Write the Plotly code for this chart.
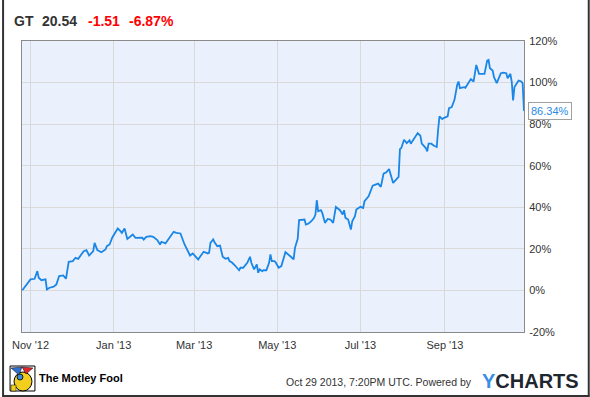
import plotly.graph_objects as go

# ---------------- data ----------------
dates = [
    "2012-10-26", "2012-11-01", "2012-11-04", "2012-11-06", "2012-11-07", "2012-11-09",
    "2012-11-12", "2012-11-13", "2012-11-15", "2012-11-18", "2012-11-20", "2012-11-22",
    "2012-11-25", "2012-11-27", "2012-11-29", "2012-12-02", "2012-12-04", "2012-12-06",
    "2012-12-10", "2012-12-12", "2012-12-14", "2012-12-16", "2012-12-17", "2012-12-18",
    "2012-12-20", "2012-12-23", "2012-12-26", "2012-12-27", "2012-12-29", "2012-12-31",
    "2013-01-02", "2013-01-04", "2013-01-06", "2013-01-07", "2013-01-09", "2013-01-11",
    "2013-01-13", "2013-01-15", "2013-01-17", "2013-01-19", "2013-01-22", "2013-01-23",
    "2013-01-25", "2013-01-28", "2013-01-30", "2013-02-02", "2013-02-04", "2013-02-05",
    "2013-02-08", "2013-02-10", "2013-02-13", "2013-02-14", "2013-02-16", "2013-02-19",
    "2013-02-22", "2013-02-24", "2013-02-26", "2013-02-28", "2013-03-02", "2013-03-04",
    "2013-03-06", "2013-03-08", "2013-03-11", "2013-03-12", "2013-03-13", "2013-03-15",
    "2013-03-16", "2013-03-18", "2013-03-20", "2013-03-21", "2013-03-22", "2013-03-24",
    "2013-03-26", "2013-03-27", "2013-03-29", "2013-03-31", "2013-04-03", "2013-04-04",
    "2013-04-06", "2013-04-09", "2013-04-11", "2013-04-12", "2013-04-14", "2013-04-16",
    "2013-04-17", "2013-04-18", "2013-04-20", "2013-04-21", "2013-04-23", "2013-04-25",
    "2013-04-26", "2013-04-27", "2013-04-29", "2013-04-30", "2013-05-02", "2013-05-04",
    "2013-05-06", "2013-05-07", "2013-05-11", "2013-05-13", "2013-05-14", "2013-05-16",
    "2013-05-17", "2013-05-19", "2013-05-21", "2013-05-22", "2013-05-24", "2013-05-26",
    "2013-05-28", "2013-05-29", "2013-05-30", "2013-05-31", "2013-06-02", "2013-06-03",
    "2013-06-05", "2013-06-07", "2013-06-09", "2013-06-11", "2013-06-13", "2013-06-16",
    "2013-06-17", "2013-06-18", "2013-06-19", "2013-06-20", "2013-06-22", "2013-06-23",
    "2013-06-24", "2013-06-25", "2013-06-27", "2013-06-28", "2013-07-01", "2013-07-03",
    "2013-07-04", "2013-07-07", "2013-07-08", "2013-07-10", "2013-07-12", "2013-07-14",
    "2013-07-16", "2013-07-18", "2013-07-20", "2013-07-22", "2013-07-25", "2013-07-27",
    "2013-07-29", "2013-07-30", "2013-07-31", "2013-08-02", "2013-08-04", "2013-08-06",
    "2013-08-07", "2013-08-08", "2013-08-10", "2013-08-12", "2013-08-14", "2013-08-15",
    "2013-08-18", "2013-08-19", "2013-08-20", "2013-08-22", "2013-08-24", "2013-08-26",
    "2013-08-27", "2013-08-28", "2013-08-30", "2013-08-31", "2013-09-03", "2013-09-04",
    "2013-09-06", "2013-09-08", "2013-09-10", "2013-09-11", "2013-09-12", "2013-09-15",
    "2013-09-16", "2013-09-19", "2013-09-20", "2013-09-22", "2013-09-23", "2013-09-24",
    "2013-09-26", "2013-09-28", "2013-09-30", "2013-10-02", "2013-10-03", "2013-10-04",
    "2013-10-06", "2013-10-07", "2013-10-09", "2013-10-10", "2013-10-12", "2013-10-14",
    "2013-10-16", "2013-10-17", "2013-10-18", "2013-10-19", "2013-10-20", "2013-10-21",
    "2013-10-22", "2013-10-23", "2013-10-25", "2013-10-27", "2013-10-28", "2013-10-29",
]
pct_change = [
    0.1, 5.3, 5.6, 9.3, 6.1, 4.9,
    5.3, 0.5, 1.3, 1.8, 2.9, 6.9,
    7.2, 5.6, 13.8, 14.1, 15.7, 15.2,
    18.9, 19.4, 16.8, 18.1, 18.9, 22.9,
    19.4, 18.4, 19.7, 21.3, 22.1, 25.5,
    27.7, 29.8, 28.5, 27.7, 29.8, 24.8,
    25.8, 26.9, 25.3, 25.3, 25.4, 24.5,
    25.8, 26.1, 25.8, 24.2, 22.1, 23.4,
    22.6, 24.5, 26.9, 28.2, 27.7, 27.4,
    22.1, 19.4, 16.8, 17.8, 16.5, 14.9,
    16.8, 18.6, 17.8, 18.1, 22.9, 24.5,
    23.2, 21.3, 21.6, 18.9, 16.2, 15.2,
    15.7, 14.1, 13.3, 12.0, 9.7, 10.9,
    10.9, 13.3, 16.2, 13.3, 10.1, 12.5,
    8.5, 10.1, 9.3, 9.7, 9.7, 13.3,
    17.3, 14.1, 14.1, 13.3, 10.9, 11.7,
    15.7, 18.4, 16.2, 14.9, 20.5, 24.8,
    33.8, 33.8, 34.1, 31.7, 32.2, 33.3,
    34.9, 36.5, 43.4, 38.1, 38.6, 37.3,
    32.5, 34.4, 34.1, 32.5, 40.2, 38.6,
    37.6, 36.5, 38.6, 34.9, 34.1, 31.2,
    29.3, 33.3, 35.7, 38.9, 40.2, 39.7,
    42.9, 45.3, 46.9, 50.4, 50.9, 51.4,
    49.8, 56.2, 56.8, 58.4, 51.7, 53.0,
    54.6, 68.0, 68.5, 72.5, 70.9, 72.2,
    70.6, 71.7, 73.8, 75.7, 74.4, 70.6,
    68.5, 66.9, 70.6, 70.6, 69.6, 69.0,
    77.3, 83.7, 82.4, 82.9, 83.7, 87.7,
    88.2, 91.7, 98.9, 100.5, 97.3, 97.8,
    97.5, 101.0, 101.7, 100.5, 104.8, 108.5,
    104.2, 104.2, 104.2, 110.6, 110.9, 106.9,
    105.8, 102.6, 99.7, 101.3, 104.5, 104.8,
    104.5, 102.1, 102.9, 104.2, 100.5, 91.4,
    97.8, 98.9, 101.0, 100.5, 99.7, 86.34,
]

x_tick_vals = ["2012-11-01", "2013-01-01", "2013-03-01", "2013-05-01", "2013-07-01", "2013-09-01"]
x_tick_text = ["Nov '12", "Jan '13", "Mar '13", "May '13", "Jul '13", "Sep '13"]
y_tick_vals = [-20, 0, 20, 40, 60, 80, 100, 120]
y_tick_text = ["-20%", "0%", "20%", "40%", "60%", "80%", "100%", "120%"]

ticker = "GT"
price = "20.54"
change = "-1.51"
change_pct = "-6.87%"
last_label = "86.34%"
timestamp = "Oct 29 2013, 7:20PM UTC. Powered by"

# ---------------- layout geometry ----------------
W_PX, H_PX = 590, 397
M_L, M_R, M_T, M_B = 20, 66, 41, 65
PW = W_PX - M_L - M_R
PH = H_PX - M_T - M_B


def px(xp):
    return (xp - M_L) / PW


def py(yp):
    return (M_T + PH - yp) / PH


LINE_BLUE = "#1a86e6"
GRID = "#d9d9d9"
TXT = "#333333"

fig = go.Figure()
fig.add_trace(go.Scatter(
    x=dates, y=pct_change, mode="lines",
    line=dict(color=LINE_BLUE, width=1.8),
    hoverinfo="skip", showlegend=False,
))

annotations = []


def txt(xp, yp, text, size, color, bold=False, anchor="left", family="Liberation Sans, Arial, sans-serif"):
    t = f"<b>{text}</b>" if bold else text
    annotations.append(dict(
        x=px(xp), y=py(yp), xref="paper", yref="paper", text=t, showarrow=False,
        xanchor=anchor, yanchor="middle",
        font=dict(size=size, color=color, family=family),
    ))


# title row
txt(10, 21, ticker, 14, TXT, bold=True)
txt(38, 21, price, 14, TXT, bold=True)
txt(84, 21, change, 14, "#ff0000", bold=True)
txt(125, 21, change_pct, 14, "#ff0000", bold=True)

# footer
txt(35, 378, "The Motley Fool", 11, "#000000", bold=True)
txt(474, 382, timestamp, 10.5, TXT, anchor="right")
annotations.append(dict(
    x=px(480), y=py(381), xref="paper", yref="paper", showarrow=False,
    xanchor="left", yanchor="middle",
    text="<b><span style='color:#3a8fe3'>Y</span>CHARTS</b>",
    font=dict(size=20, color="#1e2630", family="Liberation Sans, Arial, sans-serif"),
))

# last value callout
annotations.append(dict(
    x=1, y=pct_change[-1], xref="paper", yref="y", xshift=4,
    xanchor="left", yanchor="middle", showarrow=False,
    text=last_label, font=dict(size=11, color="#2a8ae6", family="Liberation Sans, Arial, sans-serif"),
    bgcolor="white", bordercolor="#a0a0a0", borderwidth=1, borderpad=2,
))

shapes = [
    # notch of callout
    dict(type="path", xref="x", yref="y", xsizemode="pixel", ysizemode="pixel",
         xanchor=dates[-1], yanchor=pct_change[-1],
         path="M 0.5 0 L 5.5 5 L 5.5 -5 Z",
         fillcolor="white", line=dict(color="#a0a0a0", width=1), layer="above"),
    # outer frame
    dict(type="line", xref="paper", yref="paper", x0=px(1), x1=px(1), y0=py(0), y1=py(396),
         line=dict(color="#333333", width=2)),
    dict(type="line", xref="paper", yref="paper", x0=px(589), x1=px(589), y0=py(0), y1=py(396),
         line=dict(color="#333333", width=2)),
    dict(type="line", xref="paper", yref="paper", x0=px(0), x1=px(590), y0=py(396), y1=py(396),
         line=dict(color="#333333", width=2)),
    # Motley Fool logo (approximation)
    dict(type="rect", xref="paper", yref="paper", x0=px(8), x1=px(33), y0=py(391), y1=py(366),
         fillcolor="white", line=dict(color="#000000", width=1)),
    dict(type="circle", xref="paper", yref="paper", x0=px(12), x1=px(30), y0=py(391), y1=py(372),
         fillcolor="#f2cf1d", line=dict(color="#000000", width=1)),
    dict(type="path", xref="paper", yref="paper",
         path=f"M {px(9)} {py(368)} L {px(20)} {py(367)} L {px(17)} {py(375)} Z",
         fillcolor="#2f6fd0", line=dict(color="#000000", width=0.5)),
    dict(type="path", xref="paper", yref="paper",
         path=f"M {px(20)} {py(367)} L {px(31)} {py(368)} L {px(24)} {py(374)} Z",
         fillcolor="#e0262b", line=dict(color="#000000", width=0.5)),
    dict(type="circle", xref="paper", yref="paper", x0=px(15), x1=px(21), y0=py(380), y1=py(374),
         fillcolor="#3b8be0", line=dict(color="#000000", width=0.8)),
    dict(type="rect", xref="paper", yref="paper", x0=px(9), x1=px(14), y0=py(391), y1=py(385),
         fillcolor="#f2cf1d", line=dict(color="#000000", width=0.5)),
]

fig.update_layout(
    width=W_PX, height=H_PX,
    margin=dict(l=M_L, r=M_R, t=M_T, b=M_B, pad=0),
    paper_bgcolor="white", plot_bgcolor="#eaf1fc",
    font=dict(family="Liberation Sans, Arial, sans-serif", size=11, color=TXT),
    annotations=annotations, shapes=shapes,
    xaxis=dict(
        type="date", range=["2012-10-25T18:00", "2013-10-29"],
        tickvals=x_tick_vals, ticktext=x_tick_text,
        showgrid=True, gridcolor=GRID, gridwidth=1,
        showline=True, linecolor="#8a8a8a", linewidth=1, mirror=True,
        ticks="outside", ticklen=3, tickcolor="rgba(0,0,0,0)",
        zeroline=False, tickfont=dict(size=11, color=TXT),
    ),
    yaxis=dict(
        side="right", range=[-20, 120],
        tickvals=y_tick_vals, ticktext=y_tick_text,
        showgrid=True, gridcolor=GRID, gridwidth=1,
        showline=True, linecolor="#8a8a8a", linewidth=1, mirror=True,
        ticks="outside", ticklen=2, tickcolor="rgba(0,0,0,0)",
        zeroline=False, tickfont=dict(size=11, color=TXT),
    ),
)

fig.write_html("out.html")
